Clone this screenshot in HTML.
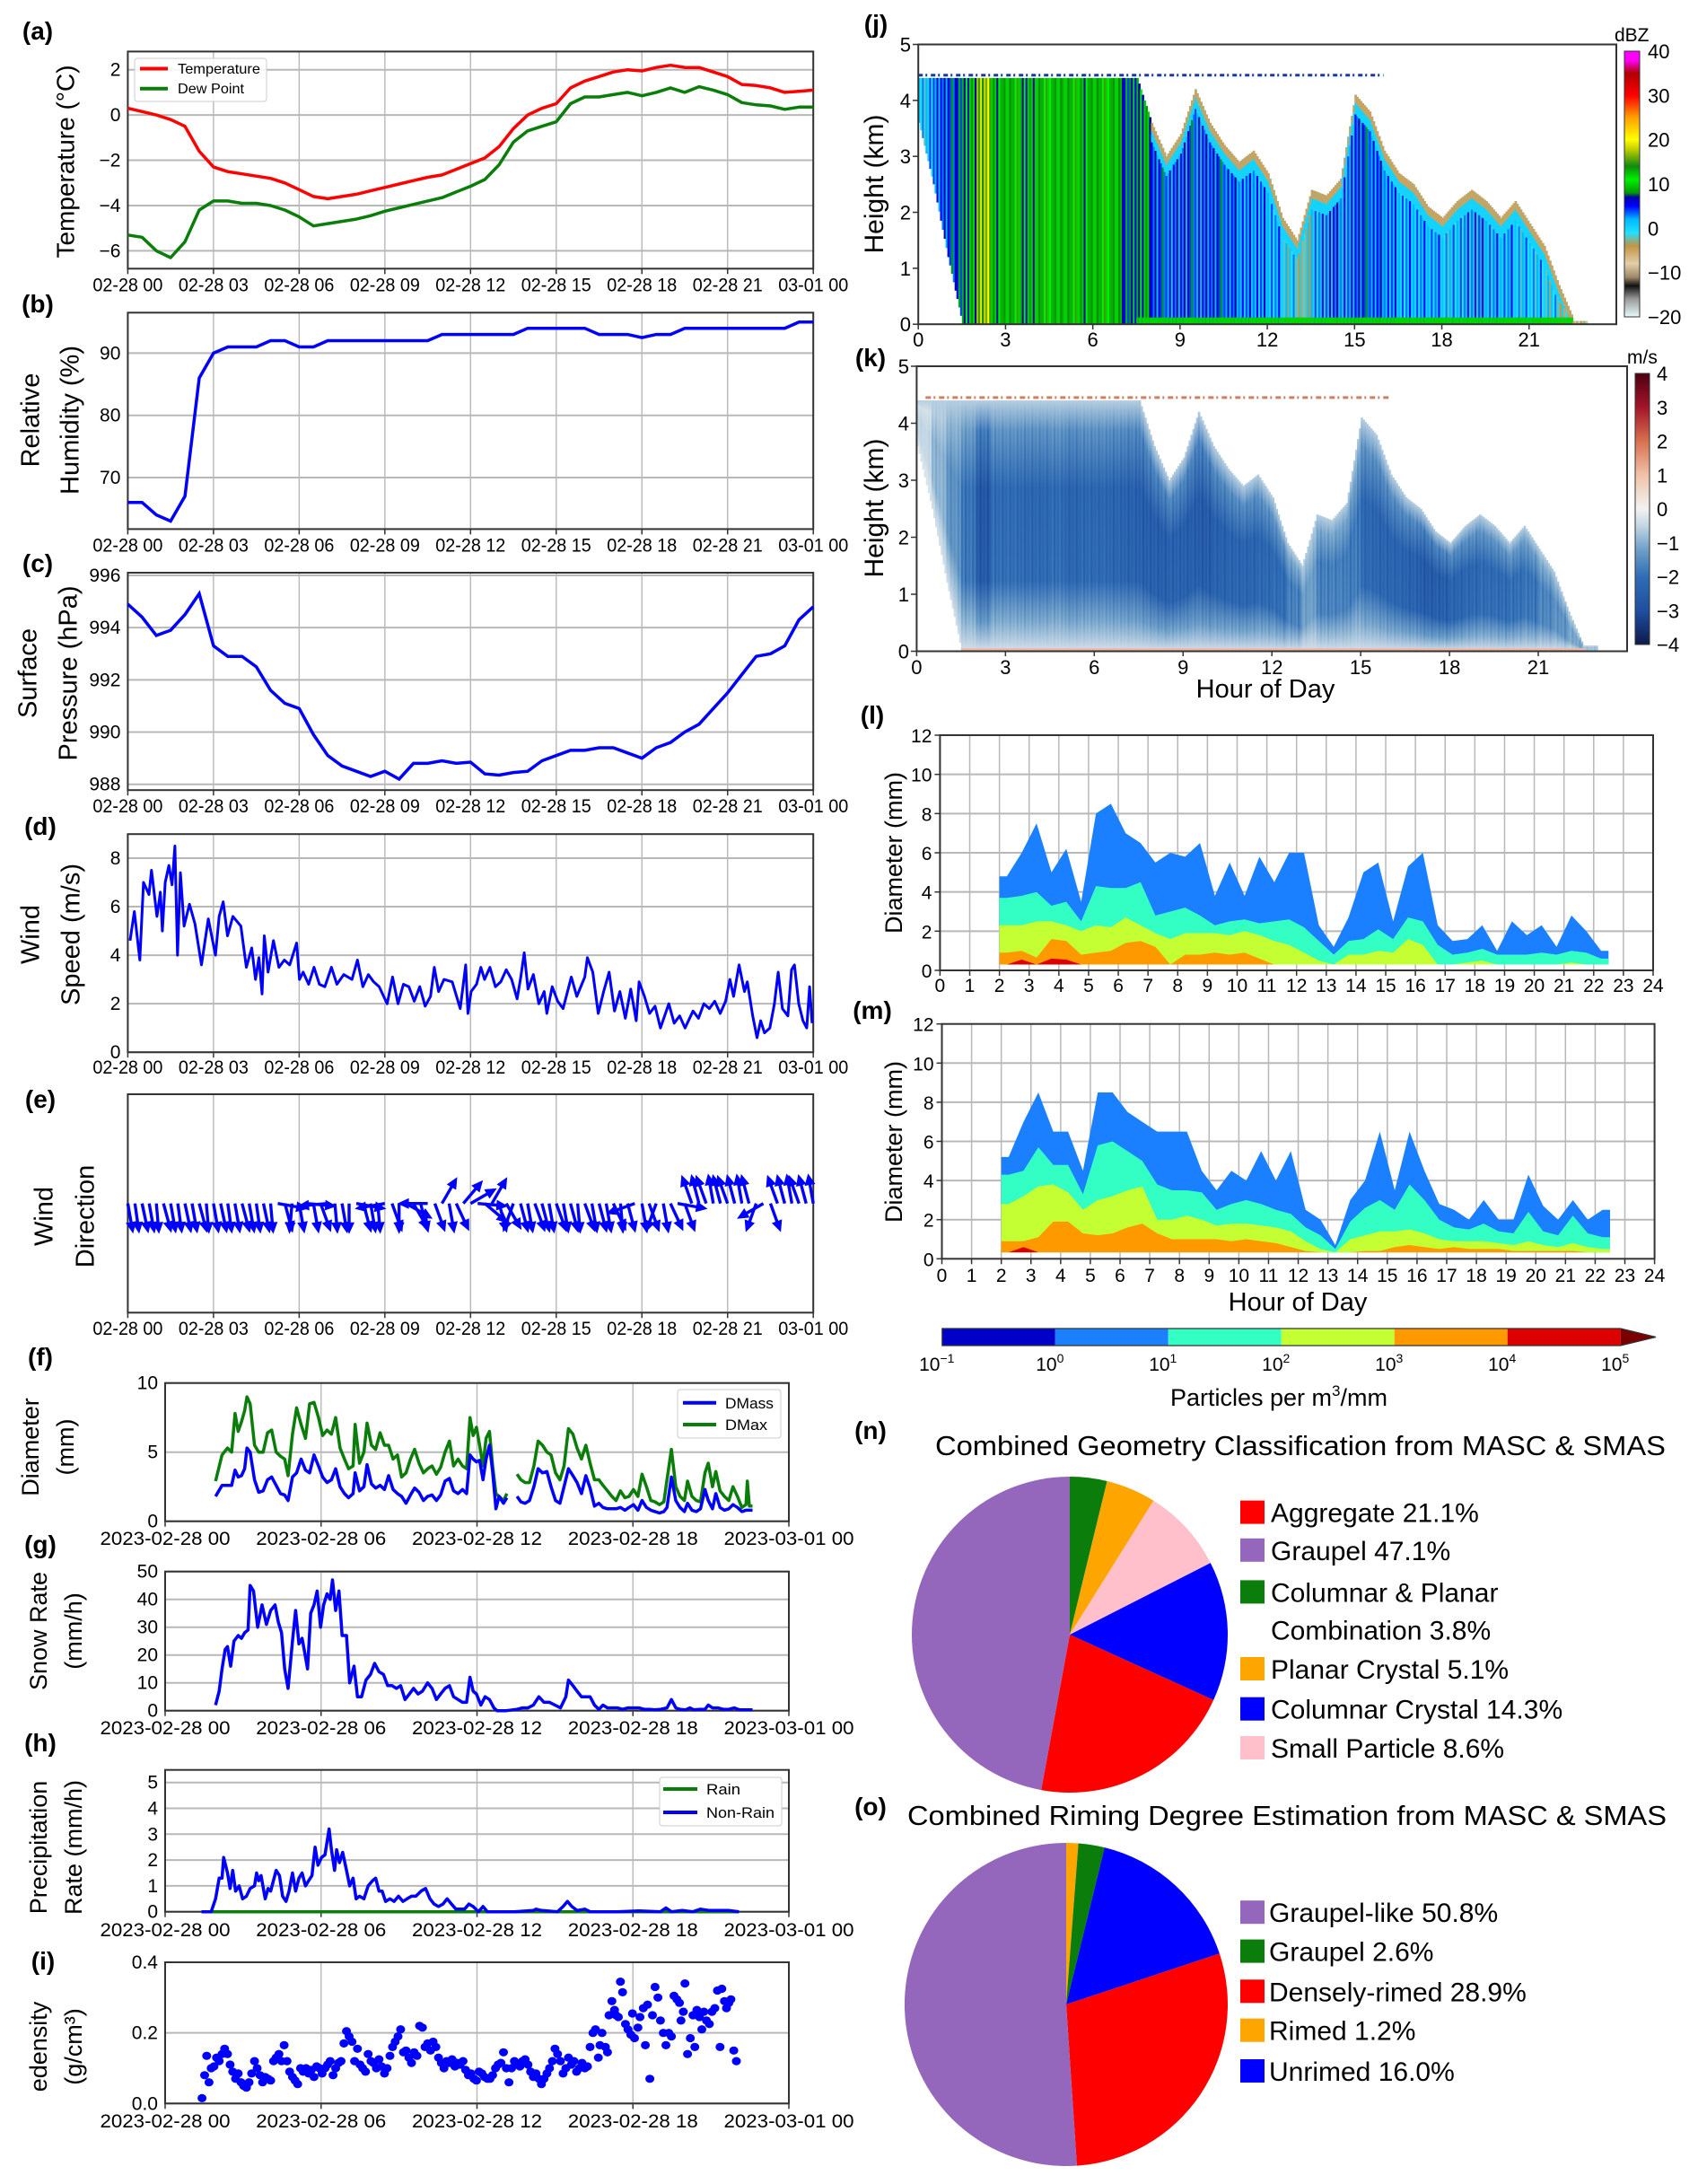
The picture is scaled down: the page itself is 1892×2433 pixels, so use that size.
<!DOCTYPE html>
<html><head><meta charset="utf-8">
<style>
html,body{margin:0;padding:0;background:#fff;}
svg{display:block;font-family:"Liberation Sans","DejaVu Sans",sans-serif;}
</style></head>
<body>
<svg id="fig" width="1892" height="2433" viewBox="0 0 1892 2433" xmlns="http://www.w3.org/2000/svg"></svg>
<script>
// ---------------- DATA ----------------
const tempC = [0.3,0.15,0.0,-0.2,-0.5,-1.6,-2.3,-2.5,-2.6,-2.7,-2.8,-3.0,-3.3,-3.6,-3.7,-3.6,-3.5,-3.35,-3.2,-3.05,-2.9,-2.75,-2.65,-2.4,-2.15,-1.9,-1.4,-0.6,0.0,0.3,0.5,1.2,1.5,1.7,1.9,2.0,1.95,2.1,2.2,2.1,2.1,1.9,1.7,1.35,1.3,1.2,1.0,1.05,1.1];
const dewC = [-5.3,-5.4,-6.0,-6.3,-5.6,-4.2,-3.8,-3.8,-3.9,-3.9,-4.0,-4.2,-4.5,-4.9,-4.8,-4.7,-4.6,-4.45,-4.25,-4.1,-3.95,-3.8,-3.65,-3.4,-3.15,-2.85,-2.2,-1.2,-0.7,-0.5,-0.3,0.5,0.8,0.8,0.9,1.0,0.85,1.0,1.2,1.0,1.25,1.1,0.9,0.55,0.45,0.4,0.25,0.35,0.35];
const rhPct = [66,66,64,63,67,86,90,91,91,91,92,92,91,91,92,92,92,92,92,92,92,92,93,93,93,93,93,93,94,94,94,94,94,93,93,93,92.5,93,93,94,94,94,94,94,94,94,94,95,95];
const presHpa = [994.9,994.4,993.7,993.9,994.5,995.3,993.3,992.9,992.9,992.5,991.6,991.1,990.9,989.9,989.1,988.7,988.5,988.3,988.5,988.2,988.8,988.8,988.9,988.8,988.85,988.4,988.35,988.45,988.5,988.9,989.1,989.3,989.3,989.4,989.4,989.2,989.0,989.4,989.6,990.0,990.3,990.9,991.5,992.2,992.9,993.0,993.3,994.3,994.8];

const windHours = [0.08,0.23,0.42,0.55,0.74,0.83,1.02,1.14,1.21,1.31,1.44,1.55,1.65,1.74,1.84,1.97,2.16,2.35,2.58,2.82,3.07,3.20,3.34,3.49,3.68,3.96,4.15,4.34,4.47,4.59,4.70,4.78,4.91,5.10,5.29,5.48,5.67,5.91,6.01,6.14,6.33,6.52,6.71,6.90,7.13,7.32,7.56,7.85,8.04,8.23,8.42,8.61,8.80,9.08,9.27,9.46,9.65,9.84,10.03,10.22,10.41,10.60,10.73,10.88,11.07,11.36,11.64,11.83,11.91,12.02,12.21,12.36,12.49,12.68,12.87,13.06,13.25,13.44,13.63,13.76,13.88,14.01,14.20,14.39,14.58,14.67,14.86,15.05,15.24,15.53,15.72,16.00,16.09,16.28,16.47,16.66,16.85,17.04,17.23,17.42,17.61,17.80,17.90,18.09,18.27,18.46,18.65,18.94,19.13,19.32,19.51,19.79,19.98,20.17,20.36,20.55,20.74,20.93,21.08,21.21,21.40,21.59,21.69,21.88,22.03,22.16,22.29,22.48,22.64,22.77,22.92,23.11,23.24,23.34,23.49,23.64,23.77,23.87,23.96];
const windSpeed = [4.6,5.8,3.8,7.0,6.5,7.5,5.6,6.6,5.0,7.0,7.7,6.9,8.5,4.0,7.4,5.2,6.1,5.3,3.6,5.5,4.0,5.6,6.2,4.8,5.6,5.2,3.5,4.3,3.0,3.9,2.4,4.8,3.3,4.6,3.5,3.8,3.6,4.5,3.0,3.3,2.8,3.5,2.8,2.7,3.5,2.8,3.2,3.0,3.8,2.7,3.2,2.9,2.7,2.0,3.1,2.0,2.8,2.7,2.1,2.7,1.9,2.3,3.5,2.5,3.0,2.9,1.8,3.6,1.6,2.5,2.8,3.5,3.0,3.5,2.7,2.9,3.4,3.0,2.2,3.1,4.1,2.6,3.2,2.0,2.5,1.6,2.7,2.1,1.8,3.1,2.3,3.1,3.9,3.3,1.6,2.5,3.3,1.7,2.5,1.4,2.6,1.3,2.9,2.3,1.6,1.9,1.0,2.0,1.2,1.5,1.0,1.7,1.4,2.0,1.8,2.1,1.6,2.1,3.0,2.3,3.6,2.5,2.9,1.5,0.6,1.3,0.8,1.0,2.0,3.3,1.8,1.5,3.4,3.6,2.0,1.3,1.0,2.7,1.2];

const windDirDeg = [170,172,168,170,175,165,170,172,168,170,165,175,170,168,172,170,165,170,172,168,
175,100,165,185,170,95,170,160,265,175,170,180,100,165,170,175,260,160,180,120,
150,165,270,160,30,170,155,40,60,95,130,30,165,150,200,165,170,160,165,170,
160,170,165,175,160,170,165,170,155,175,165,250,170,160,200,170,155,100,160,340,
345,340,350,345,340,345,350,345,200,240,160,340,345,350,340,345,350];

const diamHours = [1.94,2.19,2.40,2.56,2.69,2.81,2.94,3.06,3.15,3.27,
3.44,3.60,3.77,3.94,4.10,4.27,4.44,4.60,4.73,4.90,
5.06,5.23,5.40,5.56,5.73,5.90,6.06,6.23,6.40,6.56,
6.73,6.90,7.06,7.23,7.31,7.48,7.65,7.77,7.94,8.10,
8.27,8.44,8.60,8.77,8.94,9.10,9.27,9.44,9.60,9.77,
9.94,10.10,10.27,10.44,10.60,10.77,10.94,11.10,11.27,11.44,
11.60,11.73,11.85,11.98,12.10,12.23,12.35,12.48,12.60,12.73,
12.85,13.02,13.15,13.35,13.54,13.69,13.85,14.02,14.19,14.35,
14.52,14.69,14.85,15.02,15.19,15.35,15.52,15.69,15.85,16.02,
16.19,16.35,16.52,16.69,16.85,17.02,17.19,17.35,17.52,17.69,
17.85,18.02,18.19,18.35,18.52,18.69,18.85,19.02,19.19,19.31,
19.48,19.65,19.81,19.98,20.10,20.27,20.44,20.60,20.77,20.90,
21.06,21.19,21.35,21.52,21.69,21.85,22.02,22.19,22.35,22.40,
22.48,22.60];
const dMax = [2.9,4.8,5.3,5.0,7.8,6.5,7.2,8.0,9.0,8.5,
5.5,5.0,5.0,6.4,6.6,5.0,4.7,4.5,3.3,6.3,
8.2,7.0,6.0,8.5,8.6,7.5,6.2,6.6,6.3,7.5,
5.3,4.5,3.8,4.0,7.0,4.2,5.0,7.1,5.5,5.2,
6.4,5.5,5.5,4.5,4.8,3.2,3.5,4.5,5.2,4.2,
3.5,3.8,4.0,3.4,3.9,5.0,5.8,4.0,4.5,4.0,
3.8,7.5,6.2,6.8,5.5,4.0,6.0,6.5,4.0,2.0,
1.8,1.5,2.0,null,3.4,3.0,2.8,2.8,4.0,5.8,
5.5,5.0,4.8,3.5,3.0,4.0,6.7,6.3,5.3,4.5,
5.5,4.2,3.0,3.0,2.6,2.2,1.8,1.5,2.2,1.7,
1.8,2.3,1.8,3.4,2.5,1.5,1.4,1.2,1.4,3.0,
5.2,2.5,1.8,1.5,2.9,1.8,1.5,1.4,3.5,4.2,
2.5,3.6,2.2,1.8,1.5,2.5,1.8,1.0,1.2,2.9,
1.1,1.1];
const dMass = [1.8,2.6,2.6,2.6,3.7,3.2,3.3,3.8,5.3,5.0,
3.0,2.1,2.2,3.0,3.2,2.6,2.0,1.9,1.5,3.2,
3.5,4.5,3.7,3.5,4.8,4.0,3.2,2.8,3.0,3.8,
2.5,2.0,1.7,2.0,3.5,2.2,2.5,4.1,2.7,2.4,
2.6,2.3,3.3,2.3,2.0,1.8,1.3,1.9,2.4,2.1,
1.5,1.8,1.9,1.5,1.9,2.9,3.1,2.2,2.0,2.3,
2.0,4.8,4.5,4.3,4.4,3.0,4.5,5.5,3.6,0.9,
1.8,1.3,1.7,null,1.8,1.4,1.3,1.5,2.5,3.8,
3.5,3.6,2.5,1.5,1.3,2.5,3.8,3.3,2.8,2.0,
3.3,2.4,1.1,1.3,1.0,0.9,0.9,0.9,1.0,0.8,
1.0,1.2,0.8,1.5,1.0,0.8,0.7,0.6,0.7,1.0,
3.2,1.5,1.0,0.7,1.3,0.8,0.7,0.9,2.3,1.5,
0.9,2.0,1.0,0.8,0.9,1.2,1.0,0.7,0.8,0.8,
0.8,0.8];

const snowHours = [1.94,2.08,2.19,2.31,2.40,2.52,2.65,2.81,2.94,3.06,3.19,3.27,3.40,3.56,3.73,3.90,4.06,4.23,4.35,4.48,4.60,4.73,4.90,5.02,5.15,5.27,5.35,5.48,5.60,5.73,5.85,5.98,6.10,6.23,6.35,6.44,6.56,6.69,6.81,6.98,7.10,7.27,7.40,7.56,7.73,7.90,8.06,8.23,8.40,8.56,8.73,8.90,9.06,9.23,9.40,9.56,9.73,9.90,10.10,10.27,10.44,10.60,10.77,10.94,11.10,11.27,11.44,11.60,11.73,11.85,11.98,12.15,12.31,12.48,12.65,12.77,13.13,13.54,13.75,13.96,14.17,14.38,14.58,14.79,15.0,15.21,15.42,15.52,15.69,15.85,16.02,16.19,16.35,16.52,16.69,16.85,17.02,17.19,17.40,17.60,17.81,18.02,18.23,18.44,18.65,18.85,19.06,19.31,19.48,19.65,19.81,20.02,20.19,20.35,20.56,20.77,20.90,21.06,21.27,21.48,21.69,21.90,22.10,22.31,22.60];
const snowRate = [2,7,15,22,23,16,25,27,26,28,29,45,43,30,38,31,36,38,32,28,15,8,25,36,24,26,22,15,35,38,43,30,38,42,40,47,36,43,27,27,10,16,5,5,11,13,17,14,13,9,9,8,9,4,6,8,6,7,10,8,4,6,8,9,5,4,3,3,12,7,6,2,5,4,1,0,0,0.5,1,1,2,5,3,3,2,1,5,11,9,7,5,5,5,2,0.5,2,1,1,1,0.5,1,1,1,0.5,0.5,0.3,0.5,1,4,1,0.5,0.3,1,0.3,0.5,0.5,2,1,1,0.5,0.5,1,0.3,0.3,0.3];

const precipHours = [1.40,1.77,1.94,2.08,2.19,2.25,2.40,2.50,2.60,2.71,2.85,2.98,3.13,3.27,3.44,3.52,3.60,3.69,3.85,3.96,4.06,4.27,4.40,4.52,4.65,4.77,4.90,5.02,5.15,5.27,5.40,5.52,5.65,5.77,5.88,6.02,6.15,6.31,6.40,6.52,6.60,6.71,6.83,6.98,7.10,7.23,7.35,7.48,7.65,7.81,7.98,8.10,8.23,8.35,8.48,8.65,8.81,8.98,9.15,9.31,9.48,9.65,9.85,10.02,10.19,10.35,10.52,10.69,10.85,11.02,11.19,11.35,11.52,11.69,11.85,12.06,12.23,12.40,13.44,14.17,14.27,14.48,15.10,15.31,15.48,15.65,15.85,16.15,16.35,17.40,18.23,19.06,19.27,19.48,19.90,20.31,20.60,20.94,21.48,21.67,22.08];
const nonRain = [0,0,0.5,1.3,1.3,2.1,1.5,0.9,1.6,0.8,1.0,0.5,0.6,0.9,1.0,1.5,1.2,1.4,0.5,0.9,0.8,1.6,1.4,0.6,0.4,0.8,1.5,0.8,1.3,1.5,1.0,1.2,1.4,2.5,1.8,2.1,2.2,3.2,2.4,1.6,2.4,1.9,2.3,1.6,1.0,1.3,0.5,0.6,0.5,1.0,1.2,1.3,0.8,0.8,0.4,0.5,0.4,0.6,0.4,0.5,0.6,0.6,0.8,0.9,0.5,0.3,0.2,0.3,0.5,0.3,0.1,0.1,0.1,0.3,0.2,0.0,0.2,0.0,0.0,0.05,0.1,0.05,0.0,0.2,0.4,0.2,0.05,0.1,0.0,0.0,0.03,0.0,0.15,0.0,0.05,0.0,0.1,0.05,0.05,0.05,0.0];
const rainRate = [0,0];
const rainHours = [1.40,22.08];

const densHours = [1.42,1.52,1.60,1.69,1.77,1.88,1.98,2.08,2.19,2.29,2.40,2.50,2.60,2.71,2.81,2.92,3.02,3.13,3.23,3.33,3.44,3.54,3.65,3.75,3.85,3.96,4.06,4.17,4.27,4.38,4.48,4.58,4.69,4.79,4.90,5.00,5.10,5.21,5.31,5.42,5.52,5.63,5.73,5.83,5.94,6.04,6.15,6.25,6.35,6.46,6.56,6.67,6.77,6.88,6.98,7.08,7.19,7.29,7.40,7.50,7.60,7.71,7.81,7.92,8.02,8.13,8.23,8.33,8.44,8.54,8.65,8.75,8.85,8.96,9.06,9.17,9.27,9.38,9.48,9.58,9.69,9.79,9.90,10.00,10.10,10.21,10.31,10.42,10.52,10.63,10.73,10.83,10.94,11.04,11.15,11.25,11.35,11.46,11.56,11.67,11.77,11.88,11.98,12.08,12.19,12.29,12.40,12.50,12.60,12.71,12.81,12.92,13.02,13.13,13.23,13.33,13.44,13.54,13.65,13.75,13.85,13.96,14.06,14.17,14.27,14.38,14.48,14.58,14.69,14.79,14.90,15.00,15.10,15.21,15.31,15.42,15.52,15.63,15.73,15.83,15.94,16.04,16.15,16.25,16.35,16.46,16.56,16.67,16.73,16.81,16.94,17.02,17.08,17.19,17.29,17.35,17.44,17.52,17.60,17.71,17.81,17.92,17.98,18.06,18.19,18.27,18.40,18.48,18.56,18.65,18.75,18.85,18.96,19.06,19.17,19.27,19.38,19.48,19.58,19.69,19.79,19.85,19.94,20.00,20.10,20.21,20.31,20.38,20.46,20.56,20.65,20.73,20.83,20.94,21.04,21.15,21.25,21.35,21.42,21.52,21.60,21.69,21.77,21.88,21.98];
const densVal = [0.015,0.08,0.135,0.06,0.1,0.105,0.13,0.12,0.14,0.155,0.14,0.11,0.09,0.07,0.085,0.06,0.05,0.045,0.06,0.085,0.12,0.1,0.08,0.06,0.075,0.07,0.065,0.12,0.13,0.14,0.12,0.165,0.12,0.09,0.075,0.065,0.055,0.1,0.09,0.1,0.085,0.095,0.075,0.105,0.1,0.085,0.1,0.11,0.12,0.08,0.1,0.115,0.12,0.17,0.205,0.19,0.175,0.12,0.155,0.11,0.1,0.09,0.14,0.12,0.115,0.1,0.125,0.105,0.085,0.1,0.135,0.16,0.175,0.19,0.21,0.145,0.15,0.13,0.115,0.145,0.135,0.22,0.215,0.16,0.17,0.15,0.175,0.16,0.13,0.115,0.1,0.12,0.115,0.125,0.105,0.115,0.11,0.12,0.095,0.08,0.085,0.07,0.065,0.09,0.085,0.075,0.07,0.07,0.08,0.1,0.11,0.115,0.145,0.1,0.06,0.1,0.12,0.11,0.105,0.12,0.125,0.11,0.09,0.075,0.085,0.07,0.055,0.07,0.085,0.1,0.12,0.155,0.14,0.12,0.085,0.1,0.13,0.11,0.12,0.09,0.1,0.115,0.1,0.105,0.16,0.2,0.21,0.13,0.165,0.2,0.16,0.145,0.25,0.29,0.265,0.25,0.245,0.345,0.315,0.225,0.21,0.195,0.255,0.185,0.215,0.245,0.27,0.165,0.28,0.07,0.25,0.33,0.3,0.235,0.2,0.165,0.2,0.19,0.305,0.295,0.285,0.235,0.26,0.34,0.14,0.185,0.25,0.16,0.265,0.245,0.21,0.26,0.235,0.225,0.26,0.27,0.32,0.16,0.325,0.29,0.27,0.285,0.295,0.15,0.12];

// radar (j) reflectivity columns, 0.5-h bins starting at 0 h
const jTopKm = [4.4,4.4,4.4,4.4,4.4,4.4,4.4,4.4,4.4,4.4,4.4,4.4,4.4,4.4,4.4,4.4,3.6,3.0,3.4,4.2,3.6,3.2,2.9,3.1,2.7,1.9,1.5,2.4,2.3,2.6,4.1,3.8,3.1,2.7,2.5,2.1,1.9,2.2,2.4,2.2,1.9,2.2,1.8,1.4,0.7,0.1];
const jBaseKm = [3.6,2.5,1.2,0,0,0,0,0,0,0,0,0,0,0,0,0,0,0,0,0,0,0,0,0,0,0,0,0,0,0,0,0,0,0,0,0,0,0,0,0,0,0,0,0,0,0];
const jCoreDbz = [1,4,6,9,17,10,12,9,12,11,12,10,12,11,7,9,5,4,5,4,5,4,3,3,2,0,-2,2,4,3,5,4,3,2,2,2,1,2,3,2,2,1,1,0,-2,-5];
const kCoreMs = [-0.5,-1,-1.5,-2,-2.8,-2.2,-2.2,-2.3,-2.3,-2.2,-2.4,-2.3,-2.3,-2.4,-2.5,-2.6,-2.6,-2.5,-2.6,-2.7,-2.5,-2.4,-2.4,-2.3,-2.2,-1.8,-1.3,-1.8,-1.8,-1.9,-2.3,-2.4,-2.4,-2.5,-2.7,-2.6,-2.4,-2.3,-2.2,-2.2,-2.1,-2.0,-1.7,-1.5,-1.2,-0.8];

// PSD (l) and (m): 0.5-h bins starting at 2.0 h; top diameter (mm) of each concentration class
const psdStartHours = [2.0,2.5,3.0,3.5,4.0,4.5,5.0,5.5,6.0,6.5,7.0,7.5,8.0,8.5,9.0,9.5,10.0,10.5,11.0,11.5,12.0,12.5,13.0,13.5,14.0,14.5,15.0,15.5,16.0,16.5,17.0,17.5,18.0,18.5,19.0,19.5,20.0,20.5,21.0,21.5,22.0];
const lRed = [0,0.55,0,0.6,0.55,0,0,0,0,0,0,0,0,0,0,0,0,0,0,0,0,0,0,0,0,0,0,0,0,0,0,0,0,0,0,0,0,0,0,0,0];
const lOrange = [0.9,1.0,0.65,1.6,1.5,0.8,0.9,1.0,1.4,1.5,1.2,0.3,0.8,0.8,0.9,0.8,0.9,0.6,0.15,0,0,0,0,0,0,0,0,0,0,0,0,0,0,0,0,0,0,0,0,0,0];
const lYellow = [2.3,2.3,2.5,2.5,2.3,2.0,2.3,2.2,2.7,2.3,1.9,1.6,1.9,1.9,1.9,1.8,2.0,1.8,1.5,1.3,0.9,0.5,0.3,0.8,0.8,1.0,0.9,1.6,1.3,0.3,0.2,0.4,0.5,0.3,0.2,0.3,0.3,0.3,0.4,0.3,0.2];
const lAqua = [3.7,3.8,4.0,3.3,3.5,2.5,4.3,4.2,4.2,4.5,2.8,3.0,3.2,2.8,2.3,2.5,2.6,2.4,2.5,2.6,2.2,1.5,0.8,1.5,1.6,2.1,1.6,2.7,2.5,1.3,0.8,0.9,1.1,0.8,0.8,0.8,0.9,0.8,1.0,0.9,0.6];
const lBlue = [4.8,6.0,7.5,5.0,6.2,3.5,8.0,8.5,7.0,6.5,5.5,6.0,5.8,6.5,3.8,5.5,3.8,5.8,4.5,6.0,6.0,2.3,1.2,2.7,5.0,5.5,2.5,5.3,6.0,2.3,1.5,1.6,2.3,1.0,2.5,1.8,2.3,1.2,2.8,2.0,1.0];
const mRed = [0,0.6,0,0,0,0,0,0,0,0,0,0,0,0,0,0,0,0,0,0,0,0,0,0,0,0,0,0,0,0,0,0,0,0,0,0,0,0,0,0,0];
const mOrange = [0.9,0.9,1.1,1.9,1.9,1.3,1.2,1.3,1.6,1.8,1.3,1.0,1.0,1.0,1.0,0.9,1.0,0.9,0.8,0.6,0.4,0.2,0,0.3,0.4,0.4,0.6,0.7,0.6,0.5,0.6,0.5,0.5,0.5,0.4,0.4,0.4,0.4,0.4,0.3,0.3];
const mYellow = [2.8,3.2,3.7,3.8,3.4,2.5,3.0,3.2,3.5,3.7,2.0,2.0,2.2,2.0,1.7,1.8,1.8,1.7,1.6,1.4,0.9,0.5,0,1.0,1.2,1.4,1.4,1.5,1.3,1.0,0.9,0.9,0.9,0.8,0.7,0.9,0.7,0.6,0.8,0.6,0.5];
const mAqua = [4.3,4.5,5.7,4.8,4.8,3.3,5.8,6.0,5.5,5.0,3.8,3.5,3.5,3.4,2.5,2.8,3.0,2.8,2.5,2.3,1.6,1.2,0.5,1.9,2.6,3.0,2.5,3.8,3.0,2.0,1.6,1.5,1.8,1.4,1.3,2.4,1.4,1.2,2.2,1.3,1.1];
const mBlue = [5.2,7.0,8.5,6.5,6.5,4.5,8.5,8.5,7.5,7.0,6.5,6.5,6.5,4.5,3.5,4.5,4.0,5.5,4.0,5.5,2.5,2.0,0.7,3.0,4.0,6.5,3.5,6.5,4.5,2.8,2.5,2.0,3.0,2.0,2.0,4.3,2.7,2.0,3.0,2.0,2.5];

const psdTickExp = ['−1','0','1','2','3','4','5'];

// pies
const geomLabels = ['Aggregate 21.1%','Graupel 47.1%','Columnar & Planar','Planar Crystal 5.1%','Columnar Crystal 14.3%','Small Particle 8.6%'];
const geomValues = [21.1,47.1,3.8,5.1,14.3,8.6];
const geomDrawOrder = [2,3,5,4,0,1];
const rimeLabels = ['Graupel-like 50.8%','Graupel 2.6%','Densely-rimed 28.9%','Rimed 1.2%','Unrimed 16.0%'];
const rimeValues = [50.8,2.6,28.9,1.2,16.0];
const rimeDrawOrder = [3,1,4,2,0];

const hourTickLabels = ['02-28 00','02-28 03','02-28 06','02-28 09','02-28 12','02-28 15','02-28 18','02-28 21','03-01 00'];
const dateTickLabels = ['2023-02-28 00','2023-02-28 06','2023-02-28 12','2023-02-28 18','2023-03-01 00'];

// ---------------- HELPERS ----------------
const NS='http://www.w3.org/2000/svg';
const S=document.getElementById('fig');
function mk(tag,a,p){const e=document.createElementNS(NS,tag);for(const k in a)e.setAttribute(k,a[k]);(p||S).appendChild(e);return e;}
function T(s,a,p){const e=mk('text',a,p);e.textContent=s;return e;}
function lin(d0,d1,r0,r1){return v=>r0+(v-d0)/(d1-d0)*(r1-r0);}
function hex2rgb(h){return [1,3,5].map(i=>parseInt(h.substr(i,2),16));}
function ramp(st,v){if(v<=st[0][0])return st[0][1];for(let i=1;i<st.length;i++){if(v<=st[i][0]){const a=st[i-1][0],b=st[i][0];const A=hex2rgb(st[i-1][1]),B=hex2rgb(st[i][1]);const t=(v-a)/(b-a);return 'rgb('+A.map((x,k)=>Math.round(x+(B[k]-x)*t)).join(',')+')';}}return st[st.length-1][1];}
const defs=mk('defs',{});
const halfHours=tempC.map((_,i)=>i*0.5);
const eHours=windDirDeg.map((_,i)=>i*0.25);
const GRID='#b8b8b8';

function panelLabel(s,x,y){const t=T(s,{x:x,y:y+10,'text-anchor':'middle','font-size':28,'font-weight':'bold'});

}
function yLabel(lines,xs,cy,fs,name){lines.forEach((s,i)=>{const t=T(s,{x:0,y:0,'text-anchor':'middle','font-size':fs,transform:'translate('+xs[i]+','+cy+') rotate(-90)','dominant-baseline':'middle'});

});}

function axesBox(g,x0,x1,y0,y1){const r=mk('rect',{x:x0,y:y0,width:x1-x0,height:y1-y0,fill:'none',stroke:'#333','stroke-width':2},g);

}

function tsPanel(name,box,ydom,yticks,yfmt,xt,xl,xLabY,labW,gridX){
 const g=mk('g',{});
 
 
 const x=lin(0,24,box[0],box[1]);const y=ydom?lin(ydom[0],ydom[1],ydom[2],ydom[3]):null;
 xt.forEach((h,i)=>{
  if(gridX){const l=mk('line',{x1:x(h),x2:x(h),y1:box[2],y2:box[3],stroke:GRID,'stroke-width':1.4},g);
  
  }
  const tk=mk('line',{x1:x(h),x2:x(h),y1:box[3],y2:box[3]+6,stroke:'#333','stroke-width':1.5},g);
  
  
  if(xl[i]){const t=T(xl[i],{x:x(h),y:xLabY+7,'text-anchor':'middle','font-size':21,textLength:labW,lengthAdjust:'spacingAndGlyphs'},g);
  
  }
 });
 yticks.forEach(v=>{
  const l=mk('line',{x1:box[0],x2:box[1],y1:y(v),y2:y(v),stroke:GRID,'stroke-width':2},g);
  
  
  const t=T(yfmt(v),{x:box[0]-8,y:y(v)+7,'text-anchor':'end','font-size':21},g);
  
  
 });
 axesBox(g,box[0],box[1],box[2],box[3]);
 return {g,x,y};
}
function pathFrom(xs,ys,x,y){let d='',pen=false;for(let i=0;i<xs.length;i++){if(ys[i]===null||ys[i]===undefined){pen=false;continue;}d+=(pen?'L':'M')+x(xs[i]).toFixed(1)+','+y(ys[i]).toFixed(1);pen=true;}return d;}
const mfmt=v=>(v<0?'−':'')+Math.abs(v);

// ---------------- (a) ----------------
const hourTicks=[0,3,6,9,12,15,18,21,24];
{const P=tsPanel('temperature-panel',[142.4,906.2,57.4,299.3],[-6,2,279.4,77.7],[-6,-4,-2,0,2],mfmt,hourTicks,hourTickLabels,317.6,78,true);
const d1=mk('path',{d:pathFrom(halfHours,dewC,P.x,P.y),fill:'none',stroke:'#0a7d0a','stroke-width':3.5,'stroke-linejoin':'round'},P.g);


const t1=mk('path',{d:pathFrom(halfHours,tempC,P.x,P.y),fill:'none',stroke:'#ff0000','stroke-width':3.5,'stroke-linejoin':'round'},P.g);


const lg=mk('g',{},P.g);


mk('rect',{x:150,y:65,width:147,height:48,fill:'#fff','fill-opacity':0.85,stroke:'#ccc',rx:3},lg);
mk('line',{x1:156,x2:187,y1:76.5,y2:76.5,stroke:'#ff0000','stroke-width':4},lg);
mk('line',{x1:156,x2:187,y1:98.7,y2:98.7,stroke:'#0a7d0a','stroke-width':4},lg);
const la=T('Temperature',{x:198,y:82,'font-size':16,textLength:92,lengthAdjust:'spacingAndGlyphs'},lg);


const lb=T('Dew Point',{x:198,y:104,'font-size':16,textLength:74,lengthAdjust:'spacingAndGlyphs'},lg);

}
panelLabel('(a)',42,34);
yLabel(['Temperature (°C)'],[75],180,28,'y-axis-title');

// ---------------- (b) ----------------
{const P=tsPanel('humidity-panel',[142.4,906.2,348.3,589.4],[70,90,532,393.4],[70,80,90],v=>''+v,hourTicks,hourTickLabels,607.5,78,true);
const l=mk('path',{d:pathFrom(halfHours,rhPct,P.x,P.y),fill:'none',stroke:'#0000ff','stroke-width':3.5},P.g);

}
panelLabel('(b)',42,338);
yLabel(['Relative','Humidity (%)'],[36,80],468,29,'y-axis-title');

// ---------------- (c) ----------------
{const P=tsPanel('pressure-panel',[142.4,906.2,638,880.2],[988,996,873.7,641],[988,990,992,994,996],v=>''+v,hourTicks,hourTickLabels,898.2,78,true);
const l=mk('path',{d:pathFrom(halfHours,presHpa,P.x,P.y),fill:'none',stroke:'#0000ff','stroke-width':3.5},P.g);

}
panelLabel('(c)',42,627);
yLabel(['Surface','Pressure (hPa)'],[33,78],750,29,'y-axis-title');

// ---------------- (d) ----------------
{const P=tsPanel('wind-speed-panel',[142.4,906.2,929.2,1172.2],[0,8,1172.2,956],[0,2,4,6,8],v=>''+v,hourTicks,hourTickLabels,1189,78,true);
const l=mk('path',{d:pathFrom(windHours,windSpeed,P.x,P.y),fill:'none',stroke:'#0000ff','stroke-width':3,'stroke-linejoin':'round'},P.g);

}
panelLabel('(d)',45,920);
yLabel(['Wind','Speed (m/s)'],[36,81],1041,29,'y-axis-title');

// ---------------- (e) ----------------
{const P=tsPanel('wind-direction-panel',[142.4,906.2,1219,1462.3],null,[],null,hourTicks,hourTickLabels,1480,78,true);
const base=1340.7,L=34;
windDirDeg.forEach((deg,i)=>{
 const a=deg*Math.PI/180,x0=P.x(eHours[i]),y0=base;
 const ux=Math.sin(a),uy=-Math.cos(a),px=-uy,py=ux;
 const hx=x0+ux*(L-13),hy=y0+uy*(L-13),tx=x0+ux*L,ty=y0+uy*L;
 const pts=[[x0+px*1.7,y0+py*1.7],[hx+px*1.7,hy+py*1.7],[hx+px*6,hy+py*6],[tx,ty],[hx-px*6,hy-py*6],[hx-px*1.7,hy-py*1.7],[x0-px*1.7,y0-py*1.7]];
 const ar=mk('polygon',{points:pts.map(p=>p[0].toFixed(1)+','+p[1].toFixed(1)).join(' '),fill:'#0000ff'},P.g);
 
 
});}
panelLabel('(e)',45,1224);
yLabel(['Wind','Direction'],[51,97],1355,29,'y-axis-title');

// ---------------- (f) ----------------
const dateTicks=[0,6,12,18,24];
{const P=tsPanel('diameter-panel',[184,879,1540.7,1694.7],[0,10,1694.7,1540.7],[0,5,10],v=>''+v,dateTicks,dateTickLabels,1714,145,true);
const g1=mk('path',{d:pathFrom(diamHours,dMax,P.x,P.y),fill:'none',stroke:'#0a7d0a','stroke-width':3.5,'stroke-linejoin':'round'},P.g);


const b1=mk('path',{d:pathFrom(diamHours,dMass,P.x,P.y),fill:'none',stroke:'#0000ff','stroke-width':3.5,'stroke-linejoin':'round'},P.g);


const lg=mk('g',{},P.g);


mk('rect',{x:755,y:1548,width:115,height:54,fill:'#fff',stroke:'#ccc',rx:3},lg);
mk('line',{x1:761,x2:798,y1:1562.7,y2:1562.7,stroke:'#0000ff','stroke-width':4},lg);
mk('line',{x1:761,x2:798,y1:1587,y2:1587,stroke:'#0a7d0a','stroke-width':4},lg);
const a=T('DMass',{x:808,y:1569,'font-size':17,textLength:54,lengthAdjust:'spacingAndGlyphs'},lg);


const b=T('DMax',{x:808,y:1593,'font-size':17,textLength:47,lengthAdjust:'spacingAndGlyphs'},lg);

}
panelLabel('(f)',45,1511);
yLabel(['Diameter','(mm)'],[36,75],1612,27,'y-axis-title');

// ---------------- (g) ----------------
{const P=tsPanel('snow-rate-panel',[184,879,1750.7,1905.7],[0,50,1905.7,1750.7],[0,10,20,30,40,50],v=>''+v,dateTicks,dateTickLabels,1925,145,true);
const l=mk('path',{d:pathFrom(snowHours,snowRate,P.x,P.y),fill:'none',stroke:'#0000ff','stroke-width':3.5,'stroke-linejoin':'round'},P.g);

}
panelLabel('(g)',45,1720);
yLabel(['Snow Rate','(mm/h)'],[45,84],1817,27,'y-axis-title');

// ---------------- (h) ----------------
{const P=tsPanel('precip-rate-panel',[184,879,1971.7,2129.7],[0,5,2129.7,1985.7],[0,1,2,3,4,5],v=>''+v,dateTicks,dateTickLabels,2150,145,true);
const r=mk('path',{d:pathFrom(rainHours,rainRate,P.x,P.y),fill:'none',stroke:'#0a7d0a','stroke-width':3.5},P.g);


const n=mk('path',{d:pathFrom(precipHours,nonRain,P.x,P.y),fill:'none',stroke:'#0000ff','stroke-width':3.5,'stroke-linejoin':'round'},P.g);


const lg=mk('g',{},P.g);


mk('rect',{x:735,y:1980,width:136,height:54,fill:'#fff',stroke:'#ccc',rx:3},lg);
mk('line',{x1:739,x2:777,y1:1993,y2:1993,stroke:'#0a7d0a','stroke-width':4},lg);
mk('line',{x1:739,x2:777,y1:2019,y2:2019,stroke:'#0000ff','stroke-width':4},lg);
const a=T('Rain',{x:787,y:1999,'font-size':17,textLength:38,lengthAdjust:'spacingAndGlyphs'},lg);


const b=T('Non-Rain',{x:787,y:2025,'font-size':17,textLength:76,lengthAdjust:'spacingAndGlyphs'},lg);

}
panelLabel('(h)',45,1941);
yLabel(['Precipitation','Rate (mm/h)'],[45,84],2058,27,'y-axis-title');

// ---------------- (i) ----------------
{const P=tsPanel('edensity-panel',[184,879,2186,2343.3],[0,0.4,2343.3,2186],[0,0.2,0.4],v=>v.toFixed(1),dateTicks,dateTickLabels,2363,145,true);
densVal.forEach((v,i)=>{const c=mk('ellipse',{cx:P.x(densHours[i]).toFixed(1),cy:P.y(v).toFixed(1),rx:5,ry:4.6,fill:'#0000ff'},P.g);

});}
panelLabel('(i)',48,2184);
yLabel(['edensity','(g/cm³)'],[45,84],2280,27,'y-axis-title');

// ---------------- (j) reflectivity ----------------
const dbzStops=[[-20,'#e6fbfb'],[-16,'#9a9a9a'],[-13,'#111111'],[-11,'#a08a6a'],[-8,'#e2cfa8'],[-4,'#c49445'],[-1,'#20e0ff'],[2,'#00b8ff'],[5,'#0000ff'],[7,'#0000a8'],[8,'#009a00'],[11,'#00f000'],[14,'#108a10'],[18,'#c8d000'],[20,'#ffff00'],[25,'#ffa000'],[30,'#ff0000'],[35,'#b00000'],[38,'#ff00ff'],[40,'#ff00ff']];
const velStops=[[-4,'#0d1b4c'],[-3,'#1f4ea0'],[-2,'#2f6db5'],[-1.2,'#6fa0c8'],[-0.5,'#c2d6e4'],[0,'#f2f2f2'],[1,'#f0c2a8'],[2,'#d8704f'],[3,'#a31528'],[4,'#4d0011']];
const stripeOff=[0,-2,2,-3,1,-1,3,-2];
const NSUB=8;
function interp(arr,i,s){const a=arr[i],b=i+1<arr.length?arr[i+1]:arr[i];return a+(b-a)*s;}
{const g=mk('g',{});


const x=lin(0,24,1023.2,1801),y=lin(0,5,361.2,49.5);
jTopKm.forEach((_,i)=>{const h0=i*0.5;
 for(let s=0;s<NSUB;s++){const f=s/NSUB;const xa=x(h0+f*0.5),xb=x(h0+(f+1/NSUB)*0.5);
  const top=i>=15?interp(jTopKm,i,f):jTopKm[i];
  const base=interp(jBaseKm,i,f);
  const late=i>=16;
  const edge=late?Math.min(0.35,top*0.4):0;
  const core=jCoreDbz[i]+stripeOff[s];
  const body=mk('rect',{x:xa.toFixed(1),y:y(top-edge).toFixed(1),width:(xb-xa+0.6).toFixed(1),height:Math.max(0,y(base)-y(top-edge)).toFixed(1),fill:ramp(dbzStops,core)},g);
  
  
  if(late&&top>0.15){const e1=mk('rect',{x:xa.toFixed(1),y:y(top).toFixed(1),width:(xb-xa+0.6).toFixed(1),height:(y(top-edge)-y(top)).toFixed(1),fill:ramp(dbzStops,0)},g);
  
  
  const e2=mk('rect',{x:xa.toFixed(1),y:y(top).toFixed(1),width:(xb-xa+0.6).toFixed(1),height:(y(top-0.15)-y(top)).toFixed(1),fill:ramp(dbzStops,-5)},g);
  
  }
  if(i>=15&&top>0.15){const gr=mk('rect',{x:xa.toFixed(1),y:y(0.12).toFixed(1),width:(xb-xa+0.6).toFixed(1),height:(y(0)-y(0.12)).toFixed(1),fill:ramp(dbzStops,10)},g);
  
  }
 }});
mk('line',{x1:x(0),x2:x(16),y1:y(4.45),y2:y(4.45),stroke:'#1a3aa0','stroke-width':3,'stroke-dasharray':'5 3 2 4'},g);
[0,1,2,3,4,5].forEach(v=>{const t=T(''+v,{x:1015,y:y(v)+8,'text-anchor':'end','font-size':22},g);


mk('line',{x1:1017,x2:1023,y1:y(v),y2:y(v),stroke:'#333','stroke-width':1.5},g);});
[0,3,6,9,12,15,18,21].forEach(h=>{const t=T(''+h,{x:x(h),y:386,'text-anchor':'middle','font-size':22},g);


mk('line',{x1:x(h),x2:x(h),y1:361,y2:367,stroke:'#333','stroke-width':1.5},g);});
axesBox(g,1023.2,1801,49.5,361.2);
const lg=mk('linearGradient',{id:'dbzg',x1:0,y1:1,x2:0,y2:0},defs);
dbzStops.forEach(s=>mk('stop',{offset:((s[0]+20)/60).toFixed(3),'stop-color':s[1]},lg));
const cb=mk('rect',{x:1810,y:57,width:17,height:296,fill:'url(#dbzg)',stroke:'#333','stroke-width':1},g);


const cy=lin(-20,40,353,57);
[-20,-10,0,10,20,30,40].forEach(v=>{const t=T(mfmt(v),{x:1836,y:cy(v)+8,'font-size':22},g);

});
const u=T('dBZ',{x:1799,y:46,'font-size':21},g);

}
panelLabel('(j)',976,26);
yLabel(['Height (km)'],[976],205,30,'y-axis-title');

// ---------------- (k) velocity ----------------
{const g=mk('g',{});


const x=lin(0,24,1021.4,1813),y=lin(0,5,725.5,408);
const mult=[1,0.88,1.1,0.92];
kCoreMs.forEach((c,i)=>{const h0=i*0.5;
 for(let s=0;s<NSUB;s++){const f=s/NSUB;const id='kg'+i+'_'+s;const v=c*mult[s%4];
  const top=i>=15?interp(jTopKm,i,f):jTopKm[i];
  const base=interp(jBaseKm,i,f);
  const gr=mk('linearGradient',{id:id,x1:0,y1:0,x2:0,y2:1},defs);
  [[0,-0.6],[0.12,v*0.65],[0.35,v],[0.72,v*0.95],[0.88,v*0.5],[1,-0.3]].forEach(p=>mk('stop',{offset:p[0],'stop-color':ramp(velStops,p[1])},gr));
  const xa=x(h0+f*0.5),xb=x(h0+(f+1/NSUB)*0.5);
  const r=mk('rect',{x:xa.toFixed(1),y:y(top).toFixed(1),width:(xb-xa+0.6).toFixed(1),height:Math.max(0,y(base)-y(top)).toFixed(1),fill:'url(#'+id+')'},g);
  
  
 }});
mk('line',{x1:x(0.3),x2:x(16),y1:y(4.45),y2:y(4.45),stroke:'#d08060','stroke-width':3,'stroke-dasharray':'6 3 2 4'},g);
mk('line',{x1:x(1.5),x2:x(22.6),y1:y(0.03),y2:y(0.03),stroke:'#f0b8a8','stroke-width':3},g);
[0,1,2,3,4,5].forEach(v=>{const t=T(''+v,{x:1013,y:y(v)+8,'text-anchor':'end','font-size':22},g);


mk('line',{x1:1015,x2:1021,y1:y(v),y2:y(v),stroke:'#333','stroke-width':1.5},g);});
[0,3,6,9,12,15,18,21].forEach(h=>{const t=T(''+h,{x:x(h),y:751,'text-anchor':'middle','font-size':22},g);


mk('line',{x1:x(h),x2:x(h),y1:725,y2:731,stroke:'#333','stroke-width':1.5},g);});
axesBox(g,1021.4,1813,408,725.5);
const lg=mk('linearGradient',{id:'velg',x1:0,y1:1,x2:0,y2:0},defs);
velStops.forEach(s=>mk('stop',{offset:((s[0]+4)/8).toFixed(3),'stop-color':s[1]},lg));
const cb=mk('rect',{x:1822,y:416,width:16,height:302,fill:'url(#velg)',stroke:'#333','stroke-width':1},g);


const cy=lin(-4,4,718,416);
[-4,-3,-2,-1,0,1,2,3,4].forEach(v=>{const t=T(mfmt(v),{x:1846,y:cy(v)+8,'font-size':22},g);

});
const u=T('m/s',{x:1813,y:405,'font-size':21},g);


const xl=T('Hour of Day',{x:1410,y:777,'text-anchor':'middle','font-size':29},g);

}
panelLabel('(k)',970,398);
yLabel(['Height (km)'],[976],566,30,'y-axis-title');

// ---------------- (l) & (m) PSD ----------------
const psdCols=['#0000c8','#1a80ff','#33ffc4','#c4ff33','#ff9900','#dd0000','#7a0000'];
function psdPanel(name,box,floor,red,orange,yellow,aqua,blue,labY){
 const g=mk('g',{});
 
 
 const x=lin(0,24,box[0],box[1]),y=lin(0,12,box[3],box[2]);
 for(let h=1;h<24;h++){const l=mk('line',{x1:x(h),x2:x(h),y1:box[2],y2:box[3],stroke:GRID,'stroke-width':1.5},g);
 
 }
 for(let v=2;v<12;v+=2){const l=mk('line',{x1:box[0],x2:box[1],y1:y(v),y2:y(v),stroke:GRID,'stroke-width':2},g);
 
 }
 const layers=[[blue,psdCols[1]],[aqua,psdCols[2]],[yellow,psdCols[3]],[orange,psdCols[4]],[red,psdCols[5]]];
 const n=psdStartHours.length;
 layers.forEach((L,k)=>{
  let d='M'+x(psdStartHours[0]).toFixed(1)+','+y(floor).toFixed(1);
  for(let i=0;i<n;i++){const v=Math.max(floor,L[0][i]);const xc=x(psdStartHours[i]+0.25);
   if(i===0)d+='L'+x(psdStartHours[0]).toFixed(1)+','+y(v).toFixed(1);
   d+='L'+xc.toFixed(1)+','+y(v).toFixed(1);}
  const lastX=x(psdStartHours[n-1]+0.5);
  d+='L'+lastX.toFixed(1)+','+y(Math.max(floor,L[0][n-1])).toFixed(1)+'L'+lastX.toFixed(1)+','+y(floor).toFixed(1)+'Z';
  const p=mk('path',{d:d,fill:L[1]},g);
  
  
 });
 for(let v=0;v<=12;v+=2){const t=T(''+v,{x:box[0]-9,y:y(v)+8,'text-anchor':'end','font-size':21},g);
 
 
 mk('line',{x1:box[0]-6,x2:box[0],y1:y(v),y2:y(v),stroke:'#333','stroke-width':1.5},g);}
 for(let h=0;h<=24;h++){const t=T(''+h,{x:x(h),y:labY,'text-anchor':'middle','font-size':21},g);
 
 
 mk('line',{x1:x(h),x2:x(h),y1:box[3],y2:box[3]+6,stroke:'#333','stroke-width':1.5},g);}
 axesBox(g,box[0],box[1],box[2],box[3]);
 return g;
}
psdPanel('psd-panel-l',[1047.4,1842,819,1081],0.3,lRed,lOrange,lYellow,lAqua,lBlue,1105);
psdPanel('psd-panel-m',[1049.5,1843.6,1140.7,1402.3],0.33,mRed,mOrange,mYellow,mAqua,mBlue,1428);
panelLabel('(l)',972,796);
panelLabel('(m)',972,1125);
yLabel(['Diameter (mm)'],[998],950,27,'y-axis-title');
yLabel(['Diameter (mm)'],[998],1272,27,'y-axis-title');
{const t=T('Hour of Day',{x:1446,y:1460,'text-anchor':'middle','font-size':29});

}
{const g=mk('g',{});


const cx=lin(0,6,1049.8,1805.7);
for(let k=0;k<6;k++){const r=mk('rect',{x:cx(k),y:1480,width:cx(k+1)-cx(k),height:19,fill:psdCols[k]},g);

}
const tri=mk('polygon',{points:'1805.7,1480 1845,1489.5 1805.7,1499',fill:psdCols[6]},g);


mk('polygon',{points:'1049.8,1480 1805.7,1480 1845,1489.5 1805.7,1499 1049.8,1499',fill:'none',stroke:'#333','stroke-width':1.2},g);
psdTickExp.forEach((e,k)=>{const t=T('10',{x:cx(k)-6,y:1527,'text-anchor':'middle','font-size':21},g);


const s=mk('tspan',{dy:-9,'font-size':14},t);s.textContent=e;});
const lab=T('Particles per m',{x:1425,y:1566,'text-anchor':'middle','font-size':27},g);


const s1=mk('tspan',{dy:-11,'font-size':17},lab);s1.textContent='3';
const s2=mk('tspan',{dy:11},lab);s2.textContent='/mm';}

// ---------------- pies ----------------
const pieCols={geom:['#ff0000','#9467bd','#0a7d0a','#ffa500','#0000ff','#ffc0cb'],rime:['#9467bd','#0a7d0a','#ff0000','#ffa500','#0000ff']};
function pie(name,cx,cy,r,vals,order,cols){
 const g=mk('g',{});
 
 
 const tot=vals.reduce((a,b)=>a+b,0);let acc=0;
 order.forEach(i=>{const a0=acc/tot,a1=(acc+vals[i])/tot;acc+=vals[i];
  const p=a=>[cx+r*Math.sin(2*Math.PI*a),cy-r*Math.cos(2*Math.PI*a)];
  const A=p(a0),B=p(a1);
  const d='M'+cx+','+cy+'L'+A[0].toFixed(2)+','+A[1].toFixed(2)+'A'+r+','+r+' 0 '+(a1-a0>0.5?1:0)+' 1 '+B[0].toFixed(2)+','+B[1].toFixed(2)+'Z';
  const w=mk('path',{d:d,fill:cols[i]},g);
  
  });
 return g;
}
pie('geometry-pie',1192,1821,176,geomValues,geomDrawOrder,pieCols.geom);
pie('riming-pie',1188,2233,180,rimeValues,rimeDrawOrder,pieCols.rime);
{const t=T('Combined Geometry Classification from MASC & SMAS',{x:1449,y:1621,'text-anchor':'middle','font-size':31,textLength:814,lengthAdjust:'spacingAndGlyphs'});


const t2=T('Combined Riming Degree Estimation from MASC & SMAS',{x:1434,y:2033,'text-anchor':'middle','font-size':31,textLength:846,lengthAdjust:'spacingAndGlyphs'});

}
panelLabel('(n)',970,1593);
panelLabel('(o)',970,2012);
const geomRowsY=[1684.6,1726.8,1773.4,1859,1903.7,1947];
geomLabels.forEach((s,i)=>{const g=mk('g',{});
 
 
 mk('rect',{x:1382,y:geomRowsY[i]-13,width:27,height:26,fill:pieCols.geom[i]},g);
 T(s,{x:1416,y:geomRowsY[i]+11,'font-size':30},g);});
{const t=T('Combination 3.8%',{x:1416,y:1826.6,'font-size':30});

}
const rimeRowsY=[2130.2,2173.6,2218.3,2261.7,2307];
rimeLabels.forEach((s,i)=>{const g=mk('g',{});
 
 
 mk('rect',{x:1382,y:rimeRowsY[i]-13,width:27,height:26,fill:pieCols.rime[i]},g);
 T(s,{x:1414,y:rimeRowsY[i]+11,'font-size':30},g);});
</script>
</body></html>
